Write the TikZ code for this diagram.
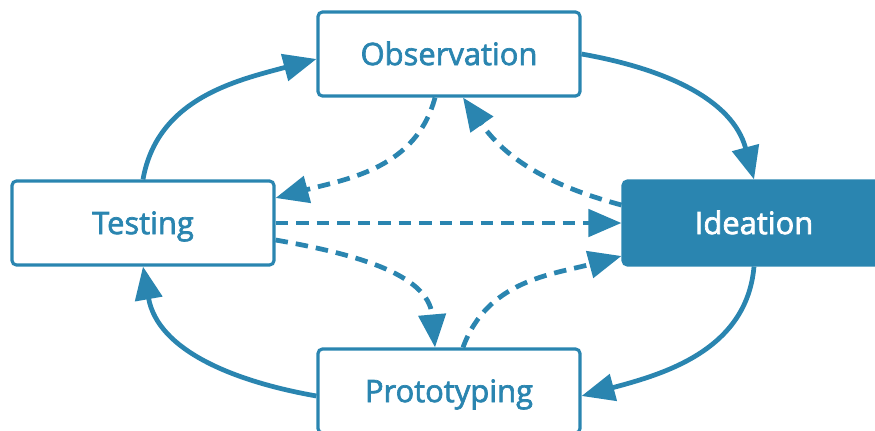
\documentclass[tikz,border=0pt]{standalone}
\usepackage{fontspec}
\setmainfont{Open Sans}
\newfontfamily\stagefont{Open Sans}[FakeBold=2.2]
\usetikzlibrary{arrows.meta}
\definecolor{cyclecol}{RGB}{42,133,176}
\begin{document}
\begin{tikzpicture}[x=0.02cm,y=0.02cm,
  box/.style={draw=cyclecol,line width=1.8pt,rounded corners=2.5pt,minimum width=5.24cm,
    minimum height=1.68cm,text height=12.6pt,text depth=0pt,text=cyclecol,
    font=\stagefont\fontsize{17.6}{20}\selectfont},
  active/.style={box,fill=cyclecol,text=white},
  solidarr/.style={draw=cyclecol,line width=2.7pt,-{Triangle[length=0.66cm,width=0.54cm]}},
  dasharr/.style={solidarr,dash pattern=on 0.25cm off 0.16cm}]
\useasboundingbox (0,0) rectangle (875,430);
\clip (0,0) rectangle (875,430);
% the four stages
\node[box] (obs) at (449,376) {Observation};
\node[box] (test) at (143,207) {Testing};
\node[active] (idea) at (754,207) {Ideation};
\node[box] (proto) at (449,39) {Prototyping};
% outer cycle
\draw[solidarr] (test.north) to[out=80,in=195] ([yshift=-0.1cm]obs.west);
\draw[solidarr] (obs.east) to[out=-10,in=105] (idea.north);
\draw[solidarr] (idea.south) to[out=-95,in=15] ([yshift=-0.1cm]proto.east);
\draw[solidarr] ([yshift=-0.1cm]proto.west) to[out=170,in=-80] (test.south);
% inner links
\draw[dasharr] ([xshift=-0.28cm]obs.south) to[out=-105,in=15] ([yshift=0.5cm]test.east);
\draw[dasharr] ([yshift=0.36cm]idea.west) to[out=165,in=-55] ([xshift=0.28cm]obs.south);
\draw[dasharr] (test.east) -- (idea.west);
\draw[dasharr] ([yshift=-0.34cm]test.east) to[out=-10,in=95] ([xshift=-0.28cm]proto.north);
\draw[dasharr] ([xshift=0.28cm]proto.north) to[out=70,in=195] ([yshift=-0.66cm]idea.west);
\end{tikzpicture}
\end{document}
